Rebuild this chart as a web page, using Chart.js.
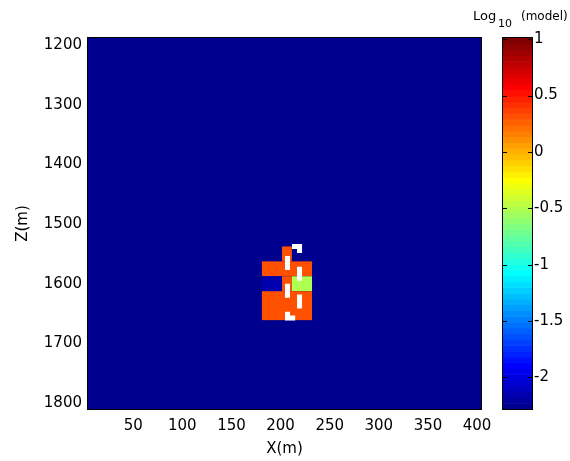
<!DOCTYPE html>
<html>
<head>
<meta charset="utf-8">
<script src="https://cdn.jsdelivr.net/npm/chart.js@4.4.1/dist/chart.umd.min.js"></script>
<style>
html, body { margin: 0; padding: 0; background: #ffffff; }
#wrap { width: 570px; height: 461px; }
</style>
</head>
<body>
<div id="wrap"><canvas id="chart" width="570" height="461"></canvas></div>
<script>
// ---- data ----
const xLimits = [4, 404];
const zLimits = [1188, 1810];
const xTickValues = [50, 100, 150, 200, 250, 300, 350, 400];
const zTickValues = [1200, 1300, 1400, 1500, 1600, 1700, 1800];
const colorLimits = [-2.28, 1.01];
const colorTickValues = [-2, -1.5, -1, -0.5, 0, 0.5, 1];
const colorTickLabels = ['-2', '-1.5', '-1', '-0.5', '0', '0.5', '1'];
const backgroundValue = -2.28;

// model cells (x range, z range, log10 value)
const cellXMin  = [201.5, 181,    181,    201.5,  211.5,  181];
const cellXMax  = [211.5, 232,    201.5,  211.5,  232,    232];
const cellZMin  = [1537.5, 1562.5, 1587.5, 1587.5, 1587.5, 1612.5];
const cellZMax  = [1562.5, 1587.5, 1612.5, 1612.5, 1612.5, 1661];
const cellValue = [0.30,   0.30,   -2.15,  0.30,   -0.50,  0.30];

// white dashed outline
const wellX = [207.05, 219.3, 219.3, 207.05, 207.05];
const wellZ = [1537.5, 1537.5, 1657.4, 1657.4, 1537.5];

const fontFamily = "'DejaVu Sans', 'Liberation Sans', sans-serif";

// MATLAB-like jet(64) colormap
function jet64(v) {
  const t = (v - colorLimits[0]) / (colorLimits[1] - colorLimits[0]);
  let i = Math.floor(t * 64);
  i = Math.max(0, Math.min(63, i));
  const k = i + 1;
  let r, g, b;
  if (k <= 8) b = 0.5 + k / 16; else if (k <= 24) b = 1; else if (k <= 40) b = 1 - (k - 24) / 16; else b = 0;
  if (k <= 8) g = 0; else if (k <= 24) g = (k - 8) / 16; else if (k <= 40) g = 1; else if (k <= 56) g = 1 - (k - 40) / 16; else g = 0;
  if (k <= 24) r = 0; else if (k <= 40) r = (k - 24) / 16; else if (k <= 56) r = 1; else r = 1 - (k - 56) / 16;
  const c = x => Math.round(Math.max(0, Math.min(1, x)) * 255);
  return 'rgb(' + c(r) + ',' + c(g) + ',' + c(b) + ')';
}

const heatmapPlugin = {
  id: 'heatmap',
  beforeDatasetsDraw(chart) {
    const { ctx, chartArea: a, scales } = chart;
    const xs = scales.x, ys = scales.y;
    ctx.save();
    ctx.beginPath();
    ctx.rect(a.left, a.top, a.right - a.left, a.bottom - a.top);
    ctx.clip();
    const bx0 = xs.getPixelForValue(xLimits[0]), bx1 = xs.getPixelForValue(xLimits[1]);
    const by0 = ys.getPixelForValue(zLimits[0]), by1 = ys.getPixelForValue(zLimits[1]);
    ctx.fillStyle = jet64(backgroundValue);
    ctx.fillRect(Math.min(bx0, bx1), Math.min(by0, by1), Math.abs(bx1 - bx0), Math.abs(by1 - by0));
    for (let i = 0; i < cellValue.length; i++) {
      const x0 = xs.getPixelForValue(cellXMin[i]), x1 = xs.getPixelForValue(cellXMax[i]);
      const y0 = ys.getPixelForValue(cellZMin[i]), y1 = ys.getPixelForValue(cellZMax[i]);
      ctx.fillStyle = jet64(cellValue[i]);
      ctx.fillRect(Math.min(x0, x1), Math.min(y0, y1), Math.abs(x1 - x0), Math.abs(y1 - y0));
    }
    ctx.restore();
  },
  afterDraw(chart) {
    const { ctx, chartArea: a, scales } = chart;
    const cs = scales.c;
    ctx.save();
    ctx.strokeStyle = '#000000';
    ctx.lineWidth = 1;
    ctx.strokeRect(a.left - 0.5, a.top - 0.5, a.right - a.left + 1, a.bottom - a.top + 1);

    // colorbar
    const cbLeft = a.right + 22, cbRight = a.right + 51;
    const span = colorLimits[1] - colorLimits[0];
    for (let i = 0; i < 64; i++) {
      const v0 = colorLimits[0] + i * span / 64;
      const v1 = colorLimits[0] + (i + 1) * span / 64;
      const p0 = cs.getPixelForValue(v0), p1 = cs.getPixelForValue(v1);
      ctx.fillStyle = jet64((v0 + v1) / 2);
      ctx.fillRect(cbLeft, Math.min(p0, p1), cbRight - cbLeft, Math.abs(p1 - p0) + 0.6);
    }
    const ct = cs.getPixelForValue(colorLimits[1]), cb = cs.getPixelForValue(colorLimits[0]);
    ctx.strokeStyle = '#000000';
    ctx.lineWidth = 1;
    ctx.strokeRect(cbLeft - 0.5, ct - 0.5, cbRight - cbLeft + 1, cb - ct + 1);
    ctx.beginPath();
    colorTickValues.forEach(v => {
      const p = Math.round(cs.getPixelForValue(v)) + 0.5;
      ctx.moveTo(cbRight - 4, p); ctx.lineTo(cbRight, p);
      ctx.moveTo(cbLeft, p); ctx.lineTo(cbLeft + 4, p);
    });
    ctx.stroke();

    // colorbar title: Log10 (model)
    ctx.fillStyle = '#000000';
    ctx.textBaseline = 'alphabetic';
    ctx.textAlign = 'left';
    ctx.font = '13px ' + fontFamily;
    ctx.fillText('Log', a.right - 8, 20);
    ctx.font = '11px ' + fontFamily;
    ctx.fillText('10', a.right + 17, 26.5);
    ctx.font = '12px ' + fontFamily;
    ctx.fillText('(model)', a.right + 40, 20);
    ctx.restore();
  }
};

const tickFont = { family: fontFamily, size: 15 };

new Chart(document.getElementById('chart'), {
  type: 'scatter',
  data: {
    datasets: [{
      data: wellX.map((x, i) => ({ x: x, y: wellZ[i] })),
      showLine: true,
      borderColor: '#ffffff',
      borderWidth: 5,
      borderDash: [14, 13.8],
      borderDashOffset: 23.3,
      borderCapStyle: 'butt',
      borderJoinStyle: 'miter',
      pointRadius: 0,
      pointHoverRadius: 0,
      fill: false,
      tension: 0,
      xAxisID: 'x',
      yAxisID: 'y'
    }]
  },
  options: {
    responsive: false,
    animation: false,
    events: [],
    layout: { padding: { top: 38, left: 0, right: 0, bottom: 0 } },
    plugins: { legend: { display: false }, tooltip: { enabled: false } },
    scales: {
      x: {
        type: 'linear', position: 'bottom',
        min: xLimits[0], max: xLimits[1],
        afterBuildTicks: s => { s.ticks = xTickValues.map(v => ({ value: v })); },
        afterFit: s => { s.height = 52; s.paddingLeft = 0; s.paddingRight = 0; },
        grid: { display: false, drawTicks: false },
        border: { display: false },
        ticks: { padding: 8, autoSkip: false, maxRotation: 0, minRotation: 0, color: '#000000', font: tickFont,
                 callback: v => String(v) },
        title: { display: true, text: 'X(m)', color: '#000000', font: tickFont, padding: { top: 0, bottom: 3 } }
      },
      y: {
        type: 'linear', position: 'left', reverse: true,
        min: zLimits[0], max: zLimits[1],
        afterBuildTicks: s => { s.ticks = zTickValues.map(v => ({ value: v })); },
        afterFit: s => { s.width = 88; s.paddingTop = 0; s.paddingBottom = 0; },
        grid: { display: false, drawTicks: false },
        border: { display: false },
        ticks: { padding: 6, autoSkip: false, color: '#000000', font: tickFont, callback: v => String(v) },
        title: { display: true, text: 'Z(m)', color: '#000000', font: tickFont, padding: { top: 14, bottom: 0 } }
      },
      c: {
        type: 'linear', position: 'right',
        min: colorLimits[0], max: colorLimits[1],
        afterBuildTicks: s => { s.ticks = colorTickValues.map(v => ({ value: v })); },
        afterFit: s => { s.width = 89; s.paddingTop = 0; s.paddingBottom = 0; },
        grid: { display: false, drawTicks: false },
        border: { display: false },
        ticks: { padding: 53, autoSkip: false, color: '#000000', font: tickFont,
                 callback: (v, i) => colorTickLabels[i] }
      }
    }
  },
  plugins: [heatmapPlugin]
});
</script>
</body>
</html>
